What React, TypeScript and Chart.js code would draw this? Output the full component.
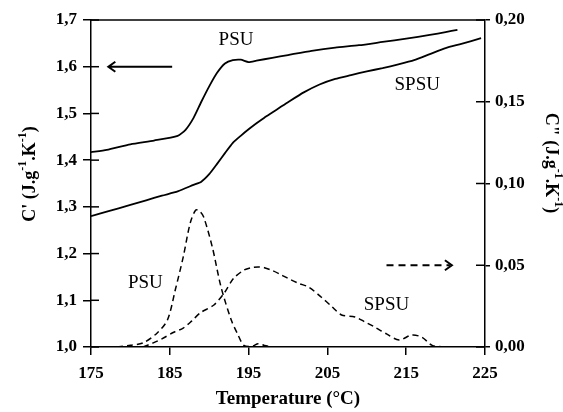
import { useEffect, useRef } from 'react';
import { Chart, registerables } from 'chart.js';
Chart.register(...registerables);

const FONT = '"Liberation Serif", "Times New Roman", serif';

// Temperature axis
const xMin = 175;
const xMax = 225;
const xStep = 10;
// C' axis (left)
const cpMin = 1.0;
const cpMax = 1.7;
const cpStep = 0.1;
// C'' axis (right)
const cppMin = 0;
const cppMax = 0.2;
const cppStep = 0.05;

// C' curves (solid)
const psuCpT = [175, 177, 180, 183, 186, 187, 188, 189, 190, 191, 192, 193, 194, 195, 196, 198, 200, 203, 206, 209, 212, 215, 218, 220, 221.5];
const psuCp = [1.417, 1.422, 1.434, 1.442, 1.452, 1.465, 1.49, 1.525, 1.558, 1.587, 1.607, 1.614, 1.615, 1.61, 1.613, 1.619, 1.625, 1.634, 1.641, 1.646, 1.653, 1.66, 1.668, 1.674, 1.679];
const spsuCpT = [175, 177, 180, 182, 184, 186, 188, 189, 190, 191, 192, 193, 194, 195, 196, 197, 198, 199, 200, 202, 204, 206, 208, 210, 212, 214, 216, 218, 220, 222, 224.5];
const spsuCp = [1.28, 1.29, 1.304, 1.314, 1.324, 1.333, 1.347, 1.354, 1.37, 1.392, 1.415, 1.437, 1.452, 1.466, 1.479, 1.491, 1.502, 1.513, 1.524, 1.545, 1.562, 1.574, 1.582, 1.59, 1.597, 1.605, 1.614, 1.627, 1.64, 1.649, 1.661];

// C'' curves (dashed)
const psuCppT = [178.3, 180, 181.6, 183.4, 184.7, 185.7, 186.7, 187.6, 188.3, 188.8, 189.3, 190.4, 191.5, 192.8, 193.6, 194.4, 195.5, 196.2, 197, 198];
const psuCpp = [0, 0.001, 0.0025, 0.0086, 0.0165, 0.035, 0.055, 0.076, 0.0838, 0.083, 0.0795, 0.061, 0.0367, 0.0165, 0.008, 0.001, 0.0005, 0.002, 0.001, 0];
const spsuCppT = [181.6, 182.9, 184, 185.5, 186.7, 187.8, 188.9, 190.6, 191.9, 193.1, 194.4, 195.3, 196.2, 197, 197.9, 199, 200, 201.3, 202.6, 204.2, 205.5, 206.8, 208.5, 209.7, 211, 212.5, 214.1, 215.7, 217, 218.3, 220];
const spsuCpp = [0, 0.0025, 0.005, 0.009, 0.0116, 0.016, 0.021, 0.0257, 0.033, 0.042, 0.047, 0.0485, 0.049, 0.0485, 0.047, 0.0445, 0.042, 0.039, 0.0367, 0.0306, 0.025, 0.0196, 0.0184, 0.0155, 0.0122, 0.008, 0.0043, 0.0073, 0.006, 0.001, 0];

// Annotations: [text, x, y, axis]
const labels: [string, number, number, string][] = [
  ['PSU', 193.4, 1.657, 'y'],
  ['SPSU', 216.4, 1.561, 'y'],
  ['PSU', 181.9, 0.039, 'y2'],
  ['SPSU', 212.5, 0.0257, 'y2'],
];

const toXY = (xs: number[], ys: number[]) => xs.map((x, i) => ({ x, y: ys[i] }));

type Part = { t: string; sup?: boolean };
const titleParts = (prime: string): Part[] => [
  { t: prime + ' (J.g' },
  { t: '-1', sup: true },
  { t: '.K' },
  { t: '-1', sup: true },
  { t: ')' },
];

function drawRich(ctx: CanvasRenderingContext2D, parts: Part[], cx: number, cy: number, rot: number) {
  const main = `bold 18px ${FONT}`;
  const sup = `bold 12px ${FONT}`;
  let total = 0;
  const widths = parts.map((p) => {
    ctx.font = p.sup ? sup : main;
    const w = ctx.measureText(p.t).width;
    total += w;
    return w;
  });
  ctx.save();
  ctx.translate(cx, cy);
  ctx.rotate(rot);
  ctx.fillStyle = '#000';
  ctx.textBaseline = 'middle';
  ctx.textAlign = 'left';
  let x = -total / 2;
  parts.forEach((p, i) => {
    ctx.font = p.sup ? sup : main;
    ctx.fillText(p.t, x, p.sup ? -6 : 1);
    x += widths[i];
  });
  ctx.restore();
}

export default function App() {
  const ref = useRef<HTMLCanvasElement>(null);
  useEffect(() => {
    const canvas = ref.current!;
    const annot = {
      id: 'annot',
      beforeDraw(chart: any) {
        const c = chart.ctx;
        c.save();
        c.fillStyle = '#fff';
        c.fillRect(0, 0, chart.width, chart.height);
        c.restore();
      },
      afterDraw(chart: any) {
        const c: CanvasRenderingContext2D = chart.ctx;
        const { left, right, top } = chart.chartArea;
        const xs = chart.scales.x;
        const ys = chart.scales.y;
        const y2 = chart.scales.y2;
        c.save();
        c.strokeStyle = '#000';
        c.lineWidth = 1.5;
        // top border
        c.beginPath();
        c.moveTo(left, top);
        c.lineTo(right, top);
        c.stroke();
        // inner tick marks
        ys.ticks.forEach((t: any) => {
          const py = ys.getPixelForValue(t.value);
          c.beginPath();
          c.moveTo(left, py);
          c.lineTo(left + 8, py);
          c.stroke();
        });
        y2.ticks.forEach((t: any) => {
          const py = y2.getPixelForValue(t.value);
          c.beginPath();
          c.moveTo(right - 9, py);
          c.lineTo(right, py);
          c.stroke();
        });
        // solid arrow -> left axis
        const ay = ys.getPixelForValue(1.6);
        const ax1 = xs.getPixelForValue(185.3);
        const ax2 = xs.getPixelForValue(177.2);
        c.lineWidth = 2;
        c.beginPath();
        c.moveTo(ax1, ay);
        c.lineTo(ax2, ay);
        c.moveTo(ax2 + 7, ay - 5);
        c.lineTo(ax2, ay);
        c.lineTo(ax2 + 7, ay + 5);
        c.stroke();
        // dashed arrow -> right axis
        const by = y2.getPixelForValue(0.05);
        const bx1 = xs.getPixelForValue(212.5);
        const bx2 = xs.getPixelForValue(220.8);
        c.setLineDash([7, 5]);
        c.beginPath();
        c.moveTo(bx1, by);
        c.lineTo(bx2 - 2, by);
        c.stroke();
        c.setLineDash([]);
        c.beginPath();
        c.moveTo(bx2 - 7, by - 5);
        c.lineTo(bx2, by);
        c.lineTo(bx2 - 7, by + 5);
        c.stroke();
        // annotation labels
        c.fillStyle = '#000';
        c.font = `19px ${FONT}`;
        c.textAlign = 'center';
        c.textBaseline = 'middle';
        labels.forEach(([t, x, y, ax]) => {
          c.fillText(t, xs.getPixelForValue(x), chart.scales[ax].getPixelForValue(y));
        });
        // axis titles
        c.font = `bold 19px ${FONT}`;
        c.textBaseline = 'middle';
        c.fillText('Temperature (°C)', (left + right) / 2, 399);
        drawRich(c, titleParts("C'"), 29, 174, -Math.PI / 2);
        drawRich(c, titleParts('C"'), 552, 163, Math.PI / 2);
        c.restore();
      },
    };
    const tickFont = { family: FONT, size: 17, weight: 'bold' as const };
    const chart = new Chart(canvas, {
      type: 'line',
      data: {
        datasets: [
          { data: toXY(psuCpT, psuCp), yAxisID: 'y', borderColor: '#000', borderWidth: 1.8, pointRadius: 0, tension: 0.2 },
          { data: toXY(spsuCpT, spsuCp), yAxisID: 'y', borderColor: '#000', borderWidth: 1.8, pointRadius: 0, tension: 0.2 },
          { data: toXY(psuCppT, psuCpp), yAxisID: 'y2', borderColor: '#000', borderWidth: 1.5, borderDash: [6, 4], pointRadius: 0, tension: 0.3 },
          { data: toXY(spsuCppT, spsuCpp), yAxisID: 'y2', borderColor: '#000', borderWidth: 1.5, borderDash: [6, 4], pointRadius: 0, tension: 0.3 },
        ],
      },
      options: {
        responsive: false,
        animation: false,
        layout: { padding: { top: 20, left: 0, right: 0, bottom: 0 } },
        plugins: { legend: { display: false }, tooltip: { enabled: false } },
        scales: {
          x: {
            type: 'linear',
            min: xMin,
            max: xMax,
            ticks: { stepSize: xStep, color: '#000', font: tickFont, padding: 8, maxRotation: 0 },
            grid: { drawOnChartArea: false, color: '#000', lineWidth: 1.5, tickLength: 8 },
            border: { display: true, color: '#000', width: 1.5 },
            afterFit: (s: any) => { s.height = 65; },
          },
          y: {
            type: 'linear',
            position: 'left',
            min: cpMin,
            max: cpMax,
            ticks: { stepSize: cpStep, color: '#000', font: tickFont, padding: 6, callback: (v: any) => Number(v).toFixed(1).replace('.', ',') },
            grid: { drawOnChartArea: false, color: '#000', lineWidth: 1.5, tickLength: 8 },
            border: { display: true, color: '#000', width: 1.5 },
            afterFit: (s: any) => { s.width = 91; },
          },
          y2: {
            type: 'linear',
            position: 'right',
            min: cppMin,
            max: cppMax,
            ticks: { stepSize: cppStep, color: '#000', font: tickFont, padding: 5, callback: (v: any) => Number(v).toFixed(2).replace('.', ',') },
            grid: { drawOnChartArea: false, color: '#000', lineWidth: 1.5, tickLength: 5 },
            border: { display: true, color: '#000', width: 1.5 },
            afterFit: (s: any) => { s.width = 78; },
          },
        },
      },
      plugins: [annot],
    });
    return () => chart.destroy();
  }, []);
  return (
    <div style={{ position: 'fixed', left: 0, top: 0, width: 563, height: 412, background: '#fff' }}>
      <canvas ref={ref} width={563} height={412} style={{ display: 'block', width: 563, height: 412 }} />
    </div>
  );
}
